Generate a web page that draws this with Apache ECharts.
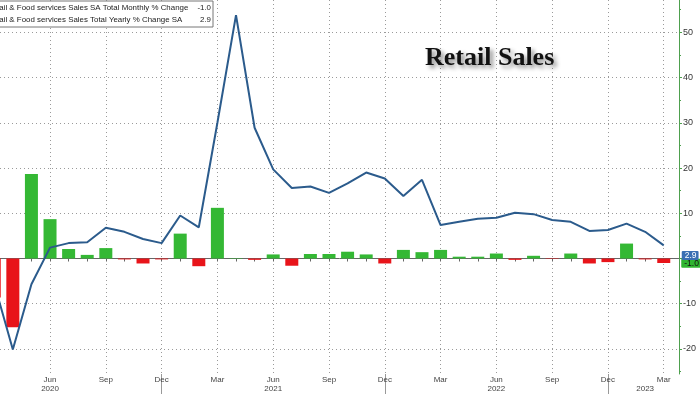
<!DOCTYPE html>
<html><head><meta charset="utf-8">
<script src="https://cdn.jsdelivr.net/npm/echarts@6/dist/echarts.min.js"></script>
<style>html,body{margin:0;padding:0;background:#fff}#c{width:700px;height:394px}</style>
</head><body><div id="c"></div>
<script>
// ---- data ----
const categories = [
  '2020-03','2020-04','2020-05','2020-06','2020-07','2020-08','2020-09','2020-10','2020-11','2020-12',
  '2021-01','2021-02','2021-03','2021-04','2021-05','2021-06','2021-07','2021-08','2021-09','2021-10','2021-11','2021-12',
  '2022-01','2022-02','2022-03','2022-04','2022-05','2022-06','2022-07','2022-08','2022-09','2022-10','2022-11','2022-12',
  '2023-01','2023-02','2023-03'
];
const monthlyChange = [
  -8.6, -15.2, 18.7, 8.7, 2.1, 0.8, 2.3, -0.2, -1.1, -0.2,
  5.5, -1.7, 11.2, 0.1, -0.3, 0.9, -1.6, 1.0, 1.0, 1.5, 0.9, -1.1,
  1.9, 1.4, 1.9, 0.4, 0.4, 1.1, -0.3, 0.6, -0.1, 1.1, -1.1, -0.8,
  3.3, -0.2, -1.0
];
const yearlyChange = [
  -5.6, -20.1, -5.7, 2.4, 3.4, 3.6, 6.8, 5.9, 4.3, 3.4,
  9.5, 6.9, 30.0, 53.8, 28.9, 19.7, 15.6, 15.9, 14.5, 16.6, 19.0, 17.7,
  13.8, 17.4, 7.4, 8.1, 8.8, 9.0, 10.1, 9.8, 8.5, 8.1, 6.1, 6.3,
  7.7, 5.9, 2.9
];
const seriesNames = [
  'Retail & Food services Sales SA Total Monthly % Change',
  'Retail & Food services Sales Total Yearly % Change SA'
];
const lastValues = ['-1.0', '2.9'];
const monthNames = ['Jan','Feb','Mar','Apr','May','Jun','Jul','Aug','Sep','Oct','Nov','Dec'];
const monthTicks = ['2020-06','2020-09','2020-12','2021-03','2021-06','2021-09','2021-12',
  '2022-03','2022-06','2022-09','2022-12','2023-03'];
const yearTicks = ['2020-06','2021-06','2022-06','2023-02'];
const yearTickText = ['2020','2021','2022','2023'];
const yearBreaks = ['2020-12','2021-12','2022-12'];
const yTicks = [-20, -10, 0, 10, 20, 30, 40, 50];
const yMinorTicks = [-25, -15, -5, 5, 15, 25, 35, 45, 55];

// ---- helpers ----
function idx(s){ const p = s.split('-').map(Number); return (p[0]-2020)*12 + (p[1]-1); }
const X_MIN = 2.31, X_MAX = 38.82, Y_MIN = -25.53, Y_MAX = 57.14;
const allMonths = [];
for (let i = Math.ceil(X_MIN); i <= Math.floor(X_MAX); i++) allMonths.push(i);
const GREEN = '#34b834', RED = '#e8141a', BLUE = '#2b5b8c', AXG = '#4ea04e';

const barData = categories.map((c,k) => {
  const v = monthlyChange[k];
  const d = { value: [idx(c), v], itemStyle: { color: v >= 0 ? GREEN : RED } };
  if (k === categories.length - 1) {
    d.label = { show: true, position: 'right', distance: 11, offset: [0, 2.5],
      formatter: lastValues[0], backgroundColor: '#2fb52f', color: '#111',
      fontSize: 8.5, lineHeight: 9, fontFamily: 'Liberation Sans', padding: [0, 2, 0, 3], borderRadius: 1 };
  }
  return d;
});
const lineData = categories.map((c,k) => [idx(c), yearlyChange[k]]);

const chart = echarts.init(document.getElementById('c'));
const axisBase = { type: 'value', min: X_MIN, max: X_MAX, position: 'bottom', gridIndex: 0 };
chart.setOption({
  backgroundColor: '#fff',
  animation: false,
  title: {
    text: 'Retail Sales', left: 420, top: 40,
    textStyle: { fontFamily: 'Liberation Serif', fontWeight: 'bold', fontSize: 26, color: '#111',
      textShadowColor: 'rgba(0,0,0,0.45)', textShadowBlur: 4, textShadowOffsetX: 3, textShadowOffsetY: 3 }
  },
  legend: {
    data: seriesNames, orient: 'vertical', left: -37, top: 1,
    padding: [2, 2, 2, 4], itemGap: 1, itemWidth: 14, itemHeight: 8,
    backgroundColor: '#fff', borderColor: '#777', borderWidth: 1, borderRadius: 0,
    selectedMode: false,
    formatter: name => '{n|' + name + '}{v|' + lastValues[seriesNames.indexOf(name)] + '}',
    textStyle: {
      fontFamily: 'Liberation Sans', fontSize: 7.9, color: '#222', lineHeight: 10.5,
      rich: { n: { width: 209, fontSize: 7.9, lineHeight: 10.5, fontFamily: 'Liberation Sans', color: '#222' },
              v: { width: 15, align: 'right', fontSize: 7.9, lineHeight: 10.5, fontFamily: 'Liberation Sans', color: '#222' } }
    }
  },
  grid: { left: 0, right: 21, top: 0, bottom: 20 },
  xAxis: [
    { type: 'value', gridIndex: 0, min: X_MIN, max: X_MAX, show: false },
    Object.assign({}, axisBase, {
      axisLine: { show: true, lineStyle: { color: '#666', width: 1 } },
      axisTick: { show: true, customValues: allMonths, length: 3, lineStyle: { color: '#666' } },
      axisLabel: { show: false }, splitLine: { show: false }
    }),
    Object.assign({}, axisBase, {
      axisLine: { show: false },
      axisTick: { show: false, customValues: monthTicks.map(idx) },
      axisLabel: { customValues: monthTicks.map(idx), formatter: v => monthNames[((Math.round(v) % 12) + 12) % 12],
        fontFamily: 'Liberation Sans', fontSize: 8, color: '#444', margin: 2 },
      splitLine: { show: true, lineStyle: { type: [1, 3], color: '#9a9a9a', width: 1 } }
    }),
    Object.assign({}, axisBase, {
      axisLine: { show: false },
      axisTick: { show: true, customValues: yearBreaks.map(idx), length: 20, lineStyle: { color: '#999' } },
      axisLabel: { customValues: yearTicks.map(idx), formatter: v => yearTickText[yearTicks.map(idx).indexOf(Math.round(v))],
        fontFamily: 'Liberation Sans', fontSize: 8, color: '#444', margin: 11 },
      splitLine: { show: false }
    })
  ],
  yAxis: [
    { type: 'value', gridIndex: 0, position: 'right', min: Y_MIN, max: Y_MAX,
      axisLine: { show: true, lineStyle: { color: AXG, width: 1 } },
      axisTick: { show: true, customValues: yTicks, length: 3, lineStyle: { color: AXG } },
      axisLabel: { customValues: yTicks, fontFamily: 'Liberation Sans', fontSize: 9, color: '#333', margin: 4 },
      splitLine: { show: true, lineStyle: { type: [1, 3], color: '#9a9a9a', width: 1 } }
    },
    { type: 'value', gridIndex: 0, position: 'right', min: Y_MIN, max: Y_MAX,
      axisLine: { show: false },
      axisTick: { show: true, customValues: yMinorTicks, length: 2, lineStyle: { color: AXG } },
      axisLabel: { show: false }, splitLine: { show: false }
    }
  ],
  series: [
    { name: seriesNames[0], type: 'bar', xAxisIndex: 0, yAxisIndex: 0, barWidth: 13, data: barData,
      itemStyle: { color: GREEN } },
    { name: seriesNames[1], type: 'line', xAxisIndex: 0, yAxisIndex: 0, data: lineData,
      symbol: 'none', lineStyle: { color: BLUE, width: 2 }, itemStyle: { color: BLUE },
      endLabel: { show: true, formatter: lastValues[1], distance: 18, offset: [0, 10],
        backgroundColor: '#3a6fb3', color: '#fff', fontSize: 8.5, lineHeight: 9, fontFamily: 'Liberation Sans',
        padding: [0, 2, 0, 3], borderRadius: 1 } }
  ]
});
</script>
</body></html>
